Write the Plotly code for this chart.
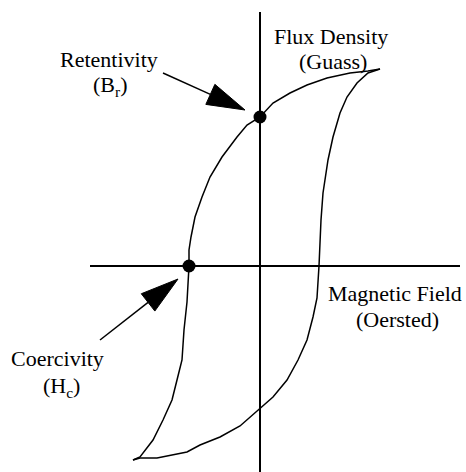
import numpy as np
import plotly.graph_objects as go

# Hysteresis loop, magnetising field H (arbitrary units) vs flux density B
# Descending branch: from positive saturation down to negative saturation
desc_H = [12.0, 10.8, 9.0, 6.7, 4.7, 3.0, 1.3, 0.0, -1.3, -2.3, -3.8, -5.0, -5.8,
          -6.5, -6.9, -7.1, -7.1, -7.2, -7.3, -7.6, -7.8, -8.3, -8.8, -9.7,
          -10.7, -12.0, -12.7]
desc_B = [19.7, 19.5, 19.3, 18.8, 18.1, 17.3, 16.3, 14.9, 14.1, 12.9, 10.9, 8.9, 6.9,
          4.9, 2.9, 1.6, 0.0, -1.4, -3.6, -6.4, -9.4, -11.4, -13.4, -15.4,
          -17.4, -19.1, -19.4]

# Ascending branch: from negative saturation back up to positive saturation
asc_H = [-12.7, -12.0, -10.3, -7.3, -6.0, -4.0, -2.0, 0.0, 1.3, 2.7, 3.8, 4.7, 5.3,
         5.7, 5.9, 6.1, 6.3, 6.8, 7.3, 8.0, 8.7, 9.7, 10.8, 12.0]
asc_B = [-19.4, -19.2, -19.2, -18.6, -17.9, -17.1, -16.0, -14.2, -13.1, -11.4, -9.4,
         -7.4, -5.1, -3.2, 0.0, 4.6, 7.3, 10.6, 12.9, 15.3, 16.9, 18.3, 19.3, 19.7]

# Key points on the loop
coercivity_H = -7.1
retentivity_B = 14.9

# Axis extents
h_axis = [-17.0, 20.0]
b_axis = [-21.5, 25.4]

# Callout arrows: (tail, tip) in data units
ret_arrow = [(-9.7, 19.3), (-1.5, 15.6)]
coe_arrow = [(-16.0, -7.4), (-8.2, -1.3)]

# Labels: (text, H, B)
labels = [
    ("Retentivity", -15.1, 20.7),
    ("(B<sub>r</sub>)", -15.0, 18.0),
    ("Flux Density", 7.1, 23.0),
    ("(Guass)", 7.3, 20.5),
    ("Magnetic Field", 13.5, -2.7),
    ("(Oersted)", 13.7, -5.3),
    ("Coercivity", -20.3, -9.2),
    ("(H<sub>c</sub>)", -19.9, -12.1),
]

INK = "black"
FONT = "Liberation Serif"

fig = go.Figure()

# Coordinate axes
fig.add_trace(go.Scatter(x=h_axis, y=[0, 0], mode="lines",
                         line=dict(color=INK, width=2), hoverinfo="skip"))
fig.add_trace(go.Scatter(x=[0, 0], y=b_axis, mode="lines",
                         line=dict(color=INK, width=2), hoverinfo="skip"))

# Loop branches
fig.add_trace(go.Scatter(x=desc_H, y=desc_B, mode="lines",
                         line=dict(color=INK, width=1.5)))
fig.add_trace(go.Scatter(x=asc_H, y=asc_B, mode="lines",
                         line=dict(color=INK, width=1.5)))

# Retentivity and coercivity points
fig.add_trace(go.Scatter(x=[0, coercivity_H], y=[retentivity_B, 0], mode="markers",
                         marker=dict(color=INK, size=13)))


def arrow_traces(tail, tip, head_len=3.8, head_half=1.1):
    t = np.array(tail, dtype=float)
    p = np.array(tip, dtype=float)
    u = (p - t) / np.linalg.norm(p - t)
    n = np.array([-u[1], u[0]])
    base = p - head_len * u
    shaft = go.Scatter(x=[t[0], base[0]], y=[t[1], base[1]], mode="lines",
                       line=dict(color=INK, width=1.5), hoverinfo="skip")
    corners = [base + head_half * n, p, base - head_half * n, base + head_half * n]
    head = go.Scatter(x=[c[0] for c in corners], y=[c[1] for c in corners],
                      mode="lines", fill="toself", fillcolor=INK,
                      line=dict(color=INK, width=1), hoverinfo="skip")
    return [shaft, head]


for tail, tip in (ret_arrow, coe_arrow):
    for tr in arrow_traces(tail, tip):
        fig.add_trace(tr)

for text, hx, by in labels:
    fig.add_annotation(x=hx, y=by, text=text, showarrow=False,
                       xanchor="center", yanchor="middle",
                       font=dict(family=FONT, size=22, color=INK))

fig.update_layout(
    width=466, height=472,
    margin=dict(l=0, r=0, t=0, b=0),
    paper_bgcolor="white", plot_bgcolor="white",
    showlegend=False,
    xaxis=dict(range=[-26.0, 20.6], visible=False, fixedrange=True),
    yaxis=dict(range=[-20.6, 26.6], visible=False, fixedrange=True),
)

fig.write_html("out.html", config={"displayModeBar": False})
